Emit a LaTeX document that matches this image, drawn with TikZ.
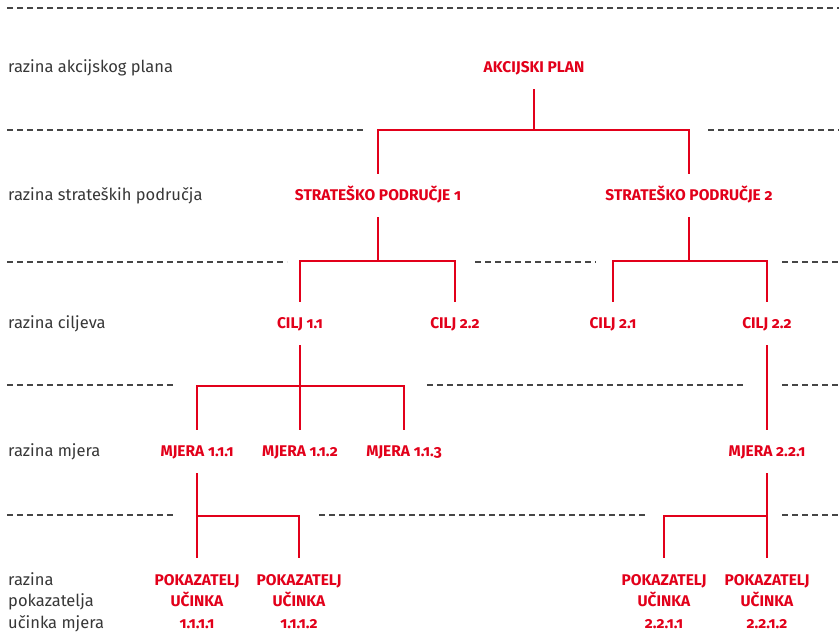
\documentclass[tikz,border=0pt]{standalone}
\usepackage{fontspec}
\setmainfont{Fira Sans}[Numbers=OldStyle]
\definecolor{planred}{RGB}{226,0,26}
\definecolor{labelgray}{RGB}{55,55,55}
\definecolor{dashgray}{RGB}{70,70,70}
\tikzset{
  lvl/.style={anchor=base west, inner sep=0pt, text=labelgray, align=left,
    font=\fontsize{16.5}{21.5}\selectfont},
  unit/.style={anchor=base, inner xsep=0pt, inner ysep=16pt, text height=11pt,
    text depth=0pt, text=planred, font=\bfseries\fontsize{15.5}{21.5}\selectfont},
  pok/.style={anchor=north, inner xsep=0pt, inner ysep=16pt, align=center,
    text=planred, font=\bfseries\fontsize{15.5}{21.5}\selectfont},
  tree/.style={draw=planred, line width=2pt},
  divider/.style={draw=dashgray, line width=2pt, dash pattern=on 6pt off 4pt},
}
\begin{document}
\begin{tikzpicture}[x=1pt, y=-1pt]
\useasboundingbox (0,0) rectangle (839,636);

% dashed level separators
\foreach \y/\a/\b in {8/7/839, 130/7/363, 130/708/839,
    262/7/287, 262/475/596, 262/782/839,
    385/7/174, 385/427/745, 385/782/839,
    515/7/174, 515/319/646, 515/782/839}
  \draw[divider] (\a,\y) -- (\b,\y);

% level labels
\node[lvl] (l1) at (8,73) {razina akcijskog plana};
\node[lvl] (l2) at (8,201) {razina strateških područja};
\node[lvl] (l3) at (8,329) {razina ciljeva};
\node[lvl] (l4) at (8,457) {razina mjera};
\node[lvl, anchor=north west] (l5) at (8,572) {razina\\pokazatelja\\učinka mjera};

% bar levels
\coordinate (b1) at (0,130);
\coordinate (b2) at (0,261);
\coordinate (b3) at (0,386);
\coordinate (b4) at (0,516);

% tree
\node[unit] (plan) at (534,73) {AKCIJSKI PLAN};
\node[unit] (sp1) at (378,201) {STRATEŠKO PODRUČJE 1};
\node[unit] (sp2) at (689,201) {STRATEŠKO PODRUČJE 2};
\node[unit] (c11) at (300,329) {CILJ 1.1};
\node[unit] (c12) at (455,329) {CILJ 2.2};
\node[unit] (c21) at (613,329) {CILJ 2.1};
\node[unit] (c22) at (767,329) {CILJ 2.2};
\node[unit] (m111) at (197,457) {MJERA 1.1.1};
\node[unit] (m112) at (300,457) {MJERA 1.1.2};
\node[unit] (m113) at (404,457) {MJERA 1.1.3};
\node[unit] (m221) at (767,457) {MJERA 2.2.1};
\node[pok] (p1111) at (197,558) {POKAZATELJ\\UČINKA\\1.1.1.1};
\node[pok] (p1112) at (299,558) {POKAZATELJ\\UČINKA\\1.1.1.2};
\node[pok] (p2211) at (664,558) {POKAZATELJ\\UČINKA\\2.2.1.1};
\node[pok] (p2212) at (767,558) {POKAZATELJ\\UČINKA\\2.2.1.2};

\draw[tree] (plan.south) -- (plan.south |- b1);
\draw[tree] (sp1.north) |- (b1 -| sp2.north) -- (sp2.north);
\draw[tree] (sp1.south) -- (sp1.south |- b2);
\draw[tree] (c11.north) |- (b2 -| c12.north) -- (c12.north);
\draw[tree] (sp2.south) -- (sp2.south |- b2);
\draw[tree] (c21.north) |- (b2 -| c22.north) -- (c22.north);
\draw[tree] (c11.south) -- (m112.north);
\draw[tree] (m111.north) |- (b3 -| m113.north) -- (m113.north);
\draw[tree] (c22.south) -- (m221.north);
\draw[tree] (m111.south) -- (p1111.north);
\draw[tree] (m111.south |- b4) -| (p1112.north);
\draw[tree] (m221.south) -- (p2212.north);
\draw[tree] (m221.south |- b4) -| (p2211.north);
\end{tikzpicture}
\end{document}
